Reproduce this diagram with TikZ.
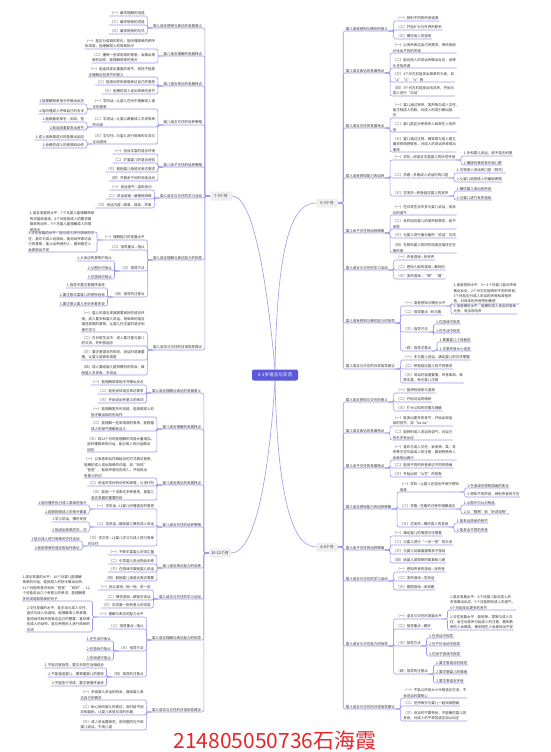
\documentclass[tikz,border=0pt]{standalone}
\usepackage{fontspec}
\setmainfont{Noto Sans CJK SC}
\definecolor{linkc}{HTML}{9A9AEE}
\definecolor{rootblue}{HTML}{5A5AD8}
\definecolor{ink}{HTML}{333333}
\definecolor{signred}{HTML}{E5262B}

\begin{document}
\begin{tikzpicture}[x=1pt, y=-1pt,
  topic/.style={font=\fontsize{3.5}{5.4}\selectfont, text=ink, inner sep=0.5pt, align=left},
  lnode/.style={topic, anchor=south east, xshift=-7pt},
  rnode/.style={topic, anchor=south west, xshift=7pt},
  stage/.style={fill=gray!13, rounded corners=1.5pt, minimum width=22pt, minimum height=9pt, inner sep=1pt, font=\fontsize{3.8}{4}\selectfont, text=ink},
  root/.style={fill=rootblue, text=white, rounded corners=2pt, minimum width=46pt, minimum height=11pt, font=\fontsize{4.6}{5}\selectfont},
  link/.style={draw=linkc, line width=0.6pt, rounded corners=2pt},
  lbranch/.style={to path={(\tikztostart.south west) -- ++(-5,0) |- (\tikztotarget.south west)}},
  rbranch/.style={to path={(\tikztostart.south east) -- ++(5,0) |- (\tikztotarget.south east)}},
  lspine/.style={to path={(\tikztostart.west) -- ++(-5,0) |- (\tikztotarget.south west)}},
  rspine/.style={to path={(\tikztostart.east) -- ++(5,0) |- (\tikztotarget.south east)}}
]
  \fill[white] (0,0) rectangle (550,752);
  \useasboundingbox (0,0) rectangle (550,752);

  % Nodes
  \node[root] (root) at (275,375) {0-1岁语言与交流};
  \node[stage] (s79) at (221,196) {7-9个月};
  \node[stage] (s1012) at (220,553) {10-12个月};
  \node[stage] (s03) at (327,203) {0-3个月};
  \node[stage] (s46) at (327,547) {4-6个月};

  % 7-9个月
  \node[lnode] (A) at (s79.west |- 0,28) {婴儿语言感受与表达的发展意义};
  \node[lnode] (a1) at (A.south west |- 0,16) {（一）最早理解的词语};
  \node[lnode] (a2) at (A.south west |- 0,25) {（二）最早使用的词语};
  \node[lnode] (a3) at (A.south west |- 0,34) {（三）最常使用的句式};
  \node[lnode] (B) at (s79.west |- 0,56) {婴儿语言理解的发展特点};
  \node[lnode] (b1) at (B.south west |- 0,49) {（一）能区分语调的变化，能听懂简单的称呼\\和词语，能理解成人的简单指令};
  \node[lnode] (b2) at (B.south west |- 0,63) {（二）懂得一些常用语的意思，会做出简\\单的动作，能理解简单的指令};
  \node[lnode] (C) at (s79.west |- 0,86) {婴儿语言表达的发展特点};
  \node[lnode] (c1) at (C.south west |- 0,77) {（一）能连续发出重复的音节，但还不能真\\正理解这些音节的意义};
  \node[lnode] (c2) at (C.south west |- 0,85) {（二）能用动作和表情表达自己的意愿};
  \node[lnode] (c3) at (C.south west |- 0,94) {（三）能模仿成人发出简单的音节};
  \node[lnode] (D) at (s79.west |- 0,125) {婴儿语言交往的培养策略};
  \node[lnode] (d1) at (D.south west |- 0,109) {（一）学听话—让婴儿在听中理解成人语\\言的意思};
  \node[lnode] (d1a) at (d1.south west |- 0,104) {1.能理解简单指令并做出反应};
  \node[lnode] (d1b) at (d1.south west |- 0,114) {2.能听懂成人呼唤自己的名字};
  \node[lnode] (d2) at (D.south west |- 0,127) {（二）学说话—让婴儿跟着成人学说简单\\的词语};
  \node[lnode] (d2a) at (d2.south west |- 0,122) {1.能跟着说单字，如妈、爸};
  \node[lnode] (d2b) at (d2.south west |- 0,130) {2.能连续重复发出音节};
  \node[lnode] (d3) at (D.south west |- 0,144) {（三）学交往—与婴儿进行简单的交流与\\互动游戏};
  \node[lnode] (d3a) at (d3.south west |- 0,140) {1.成人用表情逗引时能做出回应};
  \node[lnode] (d3b) at (d3.south west |- 0,148) {2.会模仿成人的表情和动作};
  \node[lnode] (E) at (s79.west |- 0,167) {婴儿亲子交往的培养策略};
  \node[lnode] (e1) at (E.south west |- 0,154) {（一）创设丰富的语言环境};
  \node[lnode] (e2) at (E.south west |- 0,163) {（二）扩展婴儿的语言经验};
  \node[lnode] (e3) at (E.south west |- 0,172) {（三）鼓励婴儿用语言表达需求};
  \node[lnode] (e4) at (E.south west |- 0,181) {（四）开展亲子间的阅读活动};
  \node[lnode] (F) at (s79.west |- 0,198) {婴儿语言与交往的学习活动};
  \node[lnode] (f1) at (F.south west |- 0,190) {（一）说话语气—温和亲切};
  \node[lnode] (f2) at (F.south west |- 0,199) {（二）说话语速—缓慢而清晰};
  \node[lnode] (f3) at (F.south west |- 0,208) {（三）说话内容—简单、具体、形象};
  \node[lnode] (G) at (s79.west |- 0,260) {婴儿语言理解与表达能力的指导};
  \node[lnode] (g1) at (G.south west |- 0,240) {（一）理解能力的发展水平};
  \node[lnode] (g1a) at (g1.south west |- 0,232) {1.语言发展的水平：7个月婴儿能理解简单\\的词语和语调，8个月能按成人的要求做\\简单的动作，9个月婴儿能理解成人的简\\单指令};
  \node[lnode] (g1b) at (g1.south west |- 0,252) {2.交往发展的水平：能与成人进行简单的交\\往，喜欢与成人玩游戏，能用动作表达自\\己的意愿，能认出熟悉的人，看到陌生人\\会表现出不安};
  \node[lnode] (g2) at (G.south west |- 0,250) {（二）指导重点—指认};
  \node[lnode] (g3) at (G.south west |- 0,271) {（三）指导方法};
  \node[lnode] (g3a) at (g3.south west |- 0,261) {1.从身边的事物中指认};
  \node[lnode] (g3b) at (g3.south west |- 0,270) {2.从图片中指认};
  \node[lnode] (g3c) at (g3.south west |- 0,279) {3.在游戏中指认};
  \node[lnode] (g4) at (G.south west |- 0,297) {（四）指导的注意点};
  \node[lnode] (g4a) at (g4.south west |- 0,288) {1.指导中要注意循序渐进};
  \node[lnode] (g4b) at (g4.south west |- 0,297) {2.要注意丰富婴儿的感性经验};
  \node[lnode] (g4c) at (g4.south west |- 0,306) {3.要注意让婴儿多听多看多说};
  \node[lnode] (H) at (s79.west |- 0,350) {婴儿语言与交往的日常指导建议};
  \node[lnode] (h1) at (H.south west |- 0,332) {（一）婴儿的语言发展需要良好的语言环\\境，成人要多和婴儿说话，用简单的语言\\描述周围的事物，让婴儿在丰富的语言刺\\激中学习};
  \node[lnode] (h2) at (H.south west |- 0,346) {（二）在日常生活中，成人要注意与婴儿\\的交流，并积极回应};
  \node[lnode] (h3) at (H.south west |- 0,360) {（三）要注意语言的规范，说话时语速要\\慢，让婴儿能够听清楚};
  \node[lnode] (h4) at (H.south west |- 0,375) {（四）成人要给婴儿提供模仿的机会，鼓\\励婴儿多发音、多说话};

  % 10-12个月
  \node[lnode] (I) at (s1012.west |- 0,393) {婴儿语言理解与表达的发展意义};
  \node[lnode] (i1) at (I.south west |- 0,385) {（一）能理解简单指令并做出反应};
  \node[lnode] (i2) at (I.south west |- 0,394) {（二）能用身体语言表达需求};
  \node[lnode] (i3) at (I.south west |- 0,403) {（三）开始说出有意义的单词};
  \node[lnode] (J) at (s1012.west |- 0,429) {婴儿语言理解的发展特点};
  \node[lnode] (j1) at (J.south west |- 0,417) {（一）能理解更多的词语，能按照成人的\\指令做出相应的动作};
  \node[lnode] (j2) at (J.south west |- 0,431) {（二）能理解一些常用语的意思，能根据\\成人的语气理解其含义};
  \node[lnode] (j3) at (J.south west |- 0,452) {（三）到12个月时能理解的词语大量增加，\\能听懂简单的问话，能对成人的问话做出\\回应};
  \node[lnode] (K) at (s1012.west |- 0,485) {婴儿语言表达的发展特点};
  \node[lnode] (k1) at (K.south west |- 0,478) {（一）以发音和动作相结合的方式表达意愿，\\能模仿成人说出简单的词语，如“妈妈”\\“爸爸”，能用声音回应成人，开始说出\\有意义的词};
  \node[lnode] (k2) at (K.south west |- 0,486) {（二）说话时常伴有动作和表情，以词代句};
  \node[lnode] (k3) at (K.south west |- 0,500) {（三）能用一个词表达多种意思，是婴儿\\语言发展的重要阶段};
  \node[lnode] (L) at (s1012.west |- 0,527) {婴儿语言交往的培养策略};
  \node[lnode] (l1) at (L.south west |- 0,509) {（一）学听话—让婴儿听懂语言的意思};
  \node[lnode] (l1a) at (l1.south west |- 0,505) {1.能听懂并执行成人简单的指令};
  \node[lnode] (l1b) at (l1.south west |- 0,514) {2.能够按照成人的指令做事};
  \node[lnode] (l2) at (L.south west |- 0,527) {（二）学说话—鼓励婴儿模仿成人说话};
  \node[lnode] (l2a) at (l2.south west |- 0,522) {1.学习说话，模仿发音};
  \node[lnode] (l2b) at (l2.south west |- 0,532) {2.能说出简单的字、词};
  \node[lnode] (l3) at (L.south west |- 0,546) {（三）学交往—让婴儿学习与成人进行简单\\的交往};
  \node[lnode] (l3a) at (l3.south west |- 0,541) {1.能与成人进行简单的交往活动};
  \node[lnode] (l3b) at (l3.south west |- 0,550) {2.能用简单的语言和动作表达};
  \node[lnode] (M) at (s1012.west |- 0,568) {婴儿语言表达能力的培养};
  \node[lnode] (m1) at (M.south west |- 0,555) {（一）不断丰富婴儿的词汇量};
  \node[lnode] (m2) at (M.south west |- 0,564) {（二）引导婴儿说出物品名称};
  \node[lnode] (m3) at (M.south west |- 0,572) {（三）在游戏中鼓励婴儿说话};
  \node[lnode] (m4) at (M.south west |- 0,581) {（四）鼓励婴儿用语言表达需要};
  \node[lnode] (N) at (s1012.west |- 0,599) {婴儿语言与交往的学习活动};
  \node[lnode] (n1) at (N.south west |- 0,590) {（一）指认游戏—指一指、说一说};
  \node[lnode] (n2) at (N.south west |- 0,600) {（二）模仿游戏—跟我学说话};
  \node[lnode] (n3) at (N.south west |- 0,608) {（三）学说第一批有意义的词语};
  \node[lnode] (O) at (s1012.west |- 0,640) {婴儿语言理解与表达能力的指导};
  \node[lnode] (o1) at (O.south west |- 0,617) {（一）理解与表达的能力水平};
  \node[lnode] (o1a) at (o1.south west |- 0,601) {1.语言发展的水平：10个月婴儿能理解\\简单的问话，能按成人的指令做出动作，\\11个月能有意识地叫“爸爸”“妈妈”，12\\个月能说出几个有意义的单词，能理解更\\多的词语和简单的句子};
  \node[lnode] (o1b) at (o1.south west |- 0,632) {2.交往发展的水平：能主动与成人交往，\\喜欢与成人玩游戏，能理解成人的表情，\\能用动作和声音表达自己的需要，喜欢模\\仿成人的动作，能与熟悉的人进行简单的\\交流};
  \node[lnode] (o2) at (O.south west |- 0,629) {（二）指导重点—指认};
  \node[lnode] (o3) at (O.south west |- 0,651) {（三）指导方法};
  \node[lnode] (o3a) at (o3.south west |- 0,641) {1.在生活中指认};
  \node[lnode] (o3b) at (o3.south west |- 0,651) {2.在游戏中指认};
  \node[lnode] (o3c) at (o3.south west |- 0,660) {3.在阅读中指认};
  \node[lnode] (o4) at (O.south west |- 0,677) {（四）指导的注意点};
  \node[lnode] (o4a) at (o4.south west |- 0,668) {1.不能过度指导，要与日常生活相结合};
  \node[lnode] (o4b) at (o4.south west |- 0,677) {2.不能强迫婴儿，要尊重婴儿的意愿};
  \node[lnode] (o4c) at (o4.south west |- 0,686) {3.不能急于求成，要注意循序渐进};
  \node[lnode] (P) at (s1012.west |- 0,712) {婴儿语言与交往的日常指导建议};
  \node[lnode] (p1) at (P.south west |- 0,700) {（一）多给婴儿说话的机会，鼓励婴儿表\\达自己的需求};
  \node[lnode] (p2) at (P.south west |- 0,715) {（二）耐心倾听婴儿的表达，及时给予回\\应和鼓励，让婴儿体验交流的乐趣};
  \node[lnode] (p3) at (P.south west |- 0,730) {（三）成人说话要规范，用完整的句子和\\婴儿说话，不用儿语};

  % 0-3个月
  \node[rnode] (Q) at (s03.east |- 0,31) {婴儿语音感知与模仿的意义};
  \node[rnode] (q1) at (Q.south east |- 0,21) {（一）辨别不同的声音语调};
  \node[rnode] (q2) at (Q.south east |- 0,30) {（二）开始扩大与外界的联系};
  \node[rnode] (q3) at (Q.south east |- 0,39) {（三）模仿成人的语音};
  \node[rnode] (R) at (s03.east |- 0,73) {婴儿语言表达的发展特点};
  \node[rnode] (r1) at (R.south east |- 0,53) {（一）以哭声表达自己的需求，哭声逐渐\\分化出不同的声调};
  \node[rnode] (r2) at (R.south east |- 0,68) {（二）能对成人的说话声做出反应，会转\\头寻找声源};
  \node[rnode] (r3) at (R.south east |- 0,82) {（三）2个月左右能发出简单的元音，如\\“a”“o”“e”等};
  \node[rnode] (r4) at (R.south east |- 0,96) {（四）3个月左右能发出咕咕声，开始与\\成人进行“对话”};
  \node[rnode] (S) at (s03.east |- 0,128) {婴儿语言交往的发展特点};
  \node[rnode] (s1) at (S.south east |- 0,118) {（一）婴儿通过哭声、笑声等与成人交往，\\能注视成人的脸，对成人的逗引做出回\\应};
  \node[rnode] (s2) at (S.south east |- 0,132) {（二）婴儿能区分熟悉的人和陌生人的声\\音};
  \node[rnode] (s3) at (S.south east |- 0,152) {（三）婴儿通过注视、微笑等与成人建立\\最初的情感联系，对成人的说话声表现出\\愉快};
  \node[rnode] (T) at (s03.east |- 0,178) {婴儿语音感知能力的培养};
  \node[rnode] (t1) at (T.south east |- 0,160) {（一）学听—用语言丰富婴儿的听觉环境};
  \node[rnode] (t1a) at (t1.south east |- 0,156) {1.多和婴儿说话，给予语言刺激};
  \node[rnode] (t1b) at (t1.south east |- 0,165) {2.播放优美的音乐和儿歌};
  \node[rnode] (t2) at (T.south east |- 0,178) {（二）学看—多看成人说话时的口型};
  \node[rnode] (t2a) at (t2.south east |- 0,173) {1.注视成人说话的口型（附页）};
  \node[rnode] (t2b) at (t2.south east |- 0,182) {2.让婴儿追视成人的面部表情};
  \node[rnode] (t3) at (T.south east |- 0,196) {（三）学发声—积极回应婴儿的发声};
  \node[rnode] (t3a) at (t3.south east |- 0,191) {1.模仿婴儿发出的声音};
  \node[rnode] (t3b) at (t3.south east |- 0,200) {2.与婴儿进行发声游戏};
  \node[rnode] (U) at (s03.east |- 0,233) {婴儿亲子交往的培养策略};
  \node[rnode] (u1) at (U.south east |- 0,215) {（一）在日常生活中多与婴儿说话，用亲\\切的语气};
  \node[rnode] (u2) at (U.south east |- 0,229) {（二）及时回应婴儿的哭声和需求，给予\\安慰};
  \node[rnode] (u3) at (U.south east |- 0,238) {（三）与婴儿进行面对面的“说话”交流};
  \node[rnode] (u4) at (U.south east |- 0,253) {（四）在照料婴儿的同时用语言描述正在\\做的事};
  \node[rnode] (V) at (s03.east |- 0,270) {婴儿语言与交往的学习活动};
  \node[rnode] (v1) at (V.south east |- 0,260) {（一）声音游戏—听铃声};
  \node[rnode] (v2) at (V.south east |- 0,270) {（二）感知人脸的游戏—看妈妈};
  \node[rnode] (v3) at (V.south east |- 0,279) {（三）发声游戏—“啊”“哦”};
  \node[rnode] (W) at (s03.east |- 0,323) {婴儿语音感知与模仿能力的指导};
  \node[rnode] (w1) at (W.south east |- 0,306) {（一）语音感知与模仿水平};
  \node[rnode] (w1a) at (w1.south east |- 0,304) {1.语音感知水平：0～1个月婴儿能对声音\\做出反应，2个月左右能辨别不同的声音，\\3个月能区分成人说话的声音和其他声\\音，对母亲的声音特别敏感};
  \node[rnode] (w1b) at (w1.south east |- 0,314) {2.语音模仿水平：能模仿成人发出的简单\\元音，发出咕咕声};
  \node[rnode] (w2) at (W.south east |- 0,315) {（二）指导重点—听与看};
  \node[rnode] (w3) at (W.south east |- 0,332) {（三）指导方法};
  \node[rnode] (w3a) at (w3.south east |- 0,324) {1.在游戏中指导};
  \node[rnode] (w3b) at (w3.south east |- 0,333) {2.在生活中指导};
  \node[rnode] (w4) at (W.south east |- 0,351) {（四）指导注意点};
  \node[rnode] (w4a) at (w4.south east |- 0,342) {1.尊重婴儿个体差异};
  \node[rnode] (w4b) at (w4.south east |- 0,351) {2.注意声音大小适宜};
  \node[rnode] (X) at (s03.east |- 0,369) {婴儿语言与交往的日常指导建议};
  \node[rnode] (x1) at (X.south east |- 0,360) {（一）多与婴儿说话，满足婴儿的交往需要};
  \node[rnode] (x2) at (X.south east |- 0,369) {（二）积极回应婴儿的不同需求};
  \node[rnode] (x3) at (X.south east |- 0,383) {（三）说话时语速要慢，声音柔和，表\\情丰富，吸引婴儿注意};

  % 4-6个月
  \node[rnode] (Y) at (s46.east |- 0,402) {婴儿语言感知与交往的意义};
  \node[rnode] (y1) at (Y.south east |- 0,393) {（一）能辨别语音与语调};
  \node[rnode] (y2) at (Y.south east |- 0,402) {（二）开始对话的萌芽};
  \node[rnode] (y3) at (Y.south east |- 0,411) {（三）扩大认知的范围与理解};
  \node[rnode] (Z) at (s46.east |- 0,433) {婴儿语言表达的发展特点};
  \node[rnode] (z1) at (Z.south east |- 0,426) {（一）能发出更多的音节，开始出现连\\续的音节，如“ba-ba”};
  \node[rnode] (z2) at (Z.south east |- 0,440) {（二）能辨别成人说话的语气，对自己\\的名字有反应};
  \node[rnode] (AA) at (s46.east |- 0,468) {婴儿亲子交往的发展特点};
  \node[rnode] (aa1) at (AA.south east |- 0,460) {（一）喜欢与成人交往，会用哭、笑、发\\声等方式引起成人的注意，看到熟悉的人\\会表现出高兴};
  \node[rnode] (aa2) at (AA.south east |- 0,468) {（二）能用不同的声音表达不同的情绪};
  \node[rnode] (aa3) at (AA.south east |- 0,477) {（三）开始出现“认生”的现象};
  \node[rnode] (BB) at (s46.east |- 0,509) {婴儿语言感知能力的培养策略};
  \node[rnode] (bb1) at (BB.south east |- 0,492) {（一）学听—让婴儿在语言环境中感知\\语音};
  \node[rnode] (bb1a) at (bb1.south east |- 0,488) {1.在语调中感知情绪的变化};
  \node[rnode] (bb1b) at (bb1.south east |- 0,497) {2.感知不同声音，辨别声音的方位};
  \node[rnode] (bb2) at (BB.south east |- 0,509) {（二）学看—在看的过程中理解语言};
  \node[rnode] (bb2a) at (bb2.south east |- 0,505) {1.从图片中认识物品};
  \node[rnode] (bb2b) at (bb2.south east |- 0,514) {2.从“看物”到“听词找物”};
  \node[rnode] (bb3) at (BB.south east |- 0,527) {（三）学发声—模仿成人的发音};
  \node[rnode] (bb3a) at (bb3.south east |- 0,523) {1.能发出简单的音节};
  \node[rnode] (bb3b) at (bb3.south east |- 0,532) {2.能发出不同的声音};
  \node[rnode] (CC) at (s46.east |- 0,550) {婴儿亲子交往的培养策略};
  \node[rnode] (cc1) at (CC.south east |- 0,536) {（一）满足婴儿的情感交往需要};
  \node[rnode] (cc2) at (CC.south east |- 0,545) {（二）与婴儿进行“一问一答”的交流};
  \node[rnode] (cc3) at (CC.south east |- 0,554) {（三）与婴儿玩躲猫猫等亲子游戏};
  \node[rnode] (cc4) at (CC.south east |- 0,563) {（四）给婴儿讲简单的故事和儿歌};
  \node[rnode] (DD) at (s46.east |- 0,581) {婴儿语言与交往的学习活动};
  \node[rnode] (dd1) at (DD.south east |- 0,572) {（一）感知声音的游戏—找声音};
  \node[rnode] (dd2) at (DD.south east |- 0,581) {（二）发声游戏—学说话};
  \node[rnode] (dd3) at (DD.south east |- 0,590) {（三）看图游戏—说说看};
  \node[rnode] (EE) at (s46.east |- 0,646) {婴儿语言与交往能力的指导};
  \node[rnode] (ee1) at (EE.south east |- 0,619) {（一）语言与交往的发展水平};
  \node[rnode] (ee1a) at (ee1.south east |- 0,610) {1.语言发展水平：4个月婴儿能对成人的\\声音做出反应，5个月能辨别成人的语气，\\6个月能发出更多的音节};
  \node[rnode] (ee1b) at (ee1.south east |- 0,630) {2.交往发展水平：能用哭、笑等与成人交\\往，会主动发声引起成人的注意，看到熟\\悉的人会微笑，看到陌生人会表现出不安};
  \node[rnode] (ee2) at (EE.south east |- 0,629) {（二）指导重点—跟听};
  \node[rnode] (ee3) at (EE.south east |- 0,646) {（三）指导方法};
  \node[rnode] (ee3a) at (ee3.south east |- 0,638) {1.在说话中指导};
  \node[rnode] (ee3b) at (ee3.south east |- 0,646) {2.在户外活动中指导};
  \node[rnode] (ee3c) at (ee3.south east |- 0,656) {3.在亲子游戏中指导};
  \node[rnode] (ee4) at (EE.south east |- 0,674) {（四）指导的注意点};
  \node[rnode] (ee4a) at (ee4.south east |- 0,665) {1.要注意语言的规范};
  \node[rnode] (ee4b) at (ee4.south east |- 0,674) {2.要注意婴儿的情绪};
  \node[rnode] (ee4c) at (ee4.south east |- 0,683) {3.要注意语言环境};
  \node[rnode] (FF) at (s46.east |- 0,709) {婴儿语言与交往的日常指导建议};
  \node[rnode] (ff1) at (FF.south east |- 0,698) {（一）不能以声音大小代替语言交流，不\\会说话时要耐心};
  \node[rnode] (ff2) at (FF.south east |- 0,706) {（二）坚持每天与婴儿一起阅读图画};
  \node[rnode] (ff3) at (FF.south east |- 0,721) {（三）说话时不要夸张，不能模仿婴儿的\\发音，对成人的不规范语言加以纠正};

  \node[font=\fontsize{21}{21}\selectfont, text=signred] (sign) at (275,741) {214805050736石海霞};

  % Edges
  \draw[link] (root.north) .. controls +(-10,-110) and +(18,0) .. (s79.east);
  \draw[link] (root.north) .. controls +(2,-110) and +(-28,0) .. (s03.west);
  \draw[link] (root.south) .. controls +(-6,95) and +(24,0) .. (s1012.east);
  \draw[link] (root.south) .. controls +(2,95) and +(-28,0) .. (s46.west);

  \draw[link] (s79) to[lspine] (A);
  \draw[link] (s79) to[lspine] (B);
  \draw[link] (s79) to[lspine] (C);
  \draw[link] (s79) to[lspine] (D);
  \draw[link] (s79) to[lspine] (E);
  \draw[link] (s79) to[lspine] (F);
  \draw[link] (s79) to[lspine] (G);
  \draw[link] (s79) to[lspine] (H);
  \draw[link] (A) to[lbranch] (a1);
  \draw[link] (A) to[lbranch] (a2);
  \draw[link] (A) to[lbranch] (a3);
  \draw[link] (B) to[lbranch] (b1);
  \draw[link] (B) to[lbranch] (b2);
  \draw[link] (C) to[lbranch] (c1);
  \draw[link] (C) to[lbranch] (c2);
  \draw[link] (C) to[lbranch] (c3);
  \draw[link] (D) to[lbranch] (d1);
  \draw[link] (D) to[lbranch] (d2);
  \draw[link] (D) to[lbranch] (d3);
  \draw[link] (d1) to[lbranch] (d1a);
  \draw[link] (d1) to[lbranch] (d1b);
  \draw[link] (d2) to[lbranch] (d2a);
  \draw[link] (d2) to[lbranch] (d2b);
  \draw[link] (d3) to[lbranch] (d3a);
  \draw[link] (d3) to[lbranch] (d3b);
  \draw[link] (E) to[lbranch] (e1);
  \draw[link] (E) to[lbranch] (e2);
  \draw[link] (E) to[lbranch] (e3);
  \draw[link] (E) to[lbranch] (e4);
  \draw[link] (F) to[lbranch] (f1);
  \draw[link] (F) to[lbranch] (f2);
  \draw[link] (F) to[lbranch] (f3);
  \draw[link] (G) to[lbranch] (g1);
  \draw[link] (G) to[lbranch] (g2);
  \draw[link] (G) to[lbranch] (g3);
  \draw[link] (G) to[lbranch] (g4);
  \draw[link] (g1) to[lbranch] (g1a);
  \draw[link] (g1) to[lbranch] (g1b);
  \draw[link] (g3) to[lbranch] (g3a);
  \draw[link] (g3) to[lbranch] (g3b);
  \draw[link] (g3) to[lbranch] (g3c);
  \draw[link] (g4) to[lbranch] (g4a);
  \draw[link] (g4) to[lbranch] (g4b);
  \draw[link] (g4) to[lbranch] (g4c);
  \draw[link] (H) to[lbranch] (h1);
  \draw[link] (H) to[lbranch] (h2);
  \draw[link] (H) to[lbranch] (h3);
  \draw[link] (H) to[lbranch] (h4);

  \draw[link] (s1012) to[lspine] (I);
  \draw[link] (s1012) to[lspine] (J);
  \draw[link] (s1012) to[lspine] (K);
  \draw[link] (s1012) to[lspine] (L);
  \draw[link] (s1012) to[lspine] (M);
  \draw[link] (s1012) to[lspine] (N);
  \draw[link] (s1012) to[lspine] (O);
  \draw[link] (s1012) to[lspine] (P);
  \draw[link] (I) to[lbranch] (i1);
  \draw[link] (I) to[lbranch] (i2);
  \draw[link] (I) to[lbranch] (i3);
  \draw[link] (J) to[lbranch] (j1);
  \draw[link] (J) to[lbranch] (j2);
  \draw[link] (J) to[lbranch] (j3);
  \draw[link] (K) to[lbranch] (k1);
  \draw[link] (K) to[lbranch] (k2);
  \draw[link] (K) to[lbranch] (k3);
  \draw[link] (L) to[lbranch] (l1);
  \draw[link] (L) to[lbranch] (l2);
  \draw[link] (L) to[lbranch] (l3);
  \draw[link] (l1) to[lbranch] (l1a);
  \draw[link] (l1) to[lbranch] (l1b);
  \draw[link] (l2) to[lbranch] (l2a);
  \draw[link] (l2) to[lbranch] (l2b);
  \draw[link] (l3) to[lbranch] (l3a);
  \draw[link] (l3) to[lbranch] (l3b);
  \draw[link] (M) to[lbranch] (m1);
  \draw[link] (M) to[lbranch] (m2);
  \draw[link] (M) to[lbranch] (m3);
  \draw[link] (M) to[lbranch] (m4);
  \draw[link] (N) to[lbranch] (n1);
  \draw[link] (N) to[lbranch] (n2);
  \draw[link] (N) to[lbranch] (n3);
  \draw[link] (O) to[lbranch] (o1);
  \draw[link] (O) to[lbranch] (o2);
  \draw[link] (O) to[lbranch] (o3);
  \draw[link] (O) to[lbranch] (o4);
  \draw[link] (o1) to[lbranch] (o1a);
  \draw[link] (o1) to[lbranch] (o1b);
  \draw[link] (o3) to[lbranch] (o3a);
  \draw[link] (o3) to[lbranch] (o3b);
  \draw[link] (o3) to[lbranch] (o3c);
  \draw[link] (o4) to[lbranch] (o4a);
  \draw[link] (o4) to[lbranch] (o4b);
  \draw[link] (o4) to[lbranch] (o4c);
  \draw[link] (P) to[lbranch] (p1);
  \draw[link] (P) to[lbranch] (p2);
  \draw[link] (P) to[lbranch] (p3);

  \draw[link] (s03) to[rspine] (Q);
  \draw[link] (s03) to[rspine] (R);
  \draw[link] (s03) to[rspine] (S);
  \draw[link] (s03) to[rspine] (T);
  \draw[link] (s03) to[rspine] (U);
  \draw[link] (s03) to[rspine] (V);
  \draw[link] (s03) to[rspine] (W);
  \draw[link] (s03) to[rspine] (X);
  \draw[link] (Q) to[rbranch] (q1);
  \draw[link] (Q) to[rbranch] (q2);
  \draw[link] (Q) to[rbranch] (q3);
  \draw[link] (R) to[rbranch] (r1);
  \draw[link] (R) to[rbranch] (r2);
  \draw[link] (R) to[rbranch] (r3);
  \draw[link] (R) to[rbranch] (r4);
  \draw[link] (S) to[rbranch] (s1);
  \draw[link] (S) to[rbranch] (s2);
  \draw[link] (S) to[rbranch] (s3);
  \draw[link] (T) to[rbranch] (t1);
  \draw[link] (T) to[rbranch] (t2);
  \draw[link] (T) to[rbranch] (t3);
  \draw[link] (t1) to[rbranch] (t1a);
  \draw[link] (t1) to[rbranch] (t1b);
  \draw[link] (t2) to[rbranch] (t2a);
  \draw[link] (t2) to[rbranch] (t2b);
  \draw[link] (t3) to[rbranch] (t3a);
  \draw[link] (t3) to[rbranch] (t3b);
  \draw[link] (U) to[rbranch] (u1);
  \draw[link] (U) to[rbranch] (u2);
  \draw[link] (U) to[rbranch] (u3);
  \draw[link] (U) to[rbranch] (u4);
  \draw[link] (V) to[rbranch] (v1);
  \draw[link] (V) to[rbranch] (v2);
  \draw[link] (V) to[rbranch] (v3);
  \draw[link] (W) to[rbranch] (w1);
  \draw[link] (W) to[rbranch] (w2);
  \draw[link] (W) to[rbranch] (w3);
  \draw[link] (W) to[rbranch] (w4);
  \draw[link] (w1) to[rbranch] (w1a);
  \draw[link] (w1) to[rbranch] (w1b);
  \draw[link] (w3) to[rbranch] (w3a);
  \draw[link] (w3) to[rbranch] (w3b);
  \draw[link] (w4) to[rbranch] (w4a);
  \draw[link] (w4) to[rbranch] (w4b);
  \draw[link] (X) to[rbranch] (x1);
  \draw[link] (X) to[rbranch] (x2);
  \draw[link] (X) to[rbranch] (x3);

  \draw[link] (s46) to[rspine] (Y);
  \draw[link] (s46) to[rspine] (Z);
  \draw[link] (s46) to[rspine] (AA);
  \draw[link] (s46) to[rspine] (BB);
  \draw[link] (s46) to[rspine] (CC);
  \draw[link] (s46) to[rspine] (DD);
  \draw[link] (s46) to[rspine] (EE);
  \draw[link] (s46) to[rspine] (FF);
  \draw[link] (Y) to[rbranch] (y1);
  \draw[link] (Y) to[rbranch] (y2);
  \draw[link] (Y) to[rbranch] (y3);
  \draw[link] (Z) to[rbranch] (z1);
  \draw[link] (Z) to[rbranch] (z2);
  \draw[link] (AA) to[rbranch] (aa1);
  \draw[link] (AA) to[rbranch] (aa2);
  \draw[link] (AA) to[rbranch] (aa3);
  \draw[link] (BB) to[rbranch] (bb1);
  \draw[link] (BB) to[rbranch] (bb2);
  \draw[link] (BB) to[rbranch] (bb3);
  \draw[link] (bb1) to[rbranch] (bb1a);
  \draw[link] (bb1) to[rbranch] (bb1b);
  \draw[link] (bb2) to[rbranch] (bb2a);
  \draw[link] (bb2) to[rbranch] (bb2b);
  \draw[link] (bb3) to[rbranch] (bb3a);
  \draw[link] (bb3) to[rbranch] (bb3b);
  \draw[link] (CC) to[rbranch] (cc1);
  \draw[link] (CC) to[rbranch] (cc2);
  \draw[link] (CC) to[rbranch] (cc3);
  \draw[link] (CC) to[rbranch] (cc4);
  \draw[link] (DD) to[rbranch] (dd1);
  \draw[link] (DD) to[rbranch] (dd2);
  \draw[link] (DD) to[rbranch] (dd3);
  \draw[link] (EE) to[rbranch] (ee1);
  \draw[link] (EE) to[rbranch] (ee2);
  \draw[link] (EE) to[rbranch] (ee3);
  \draw[link] (EE) to[rbranch] (ee4);
  \draw[link] (ee1) to[rbranch] (ee1a);
  \draw[link] (ee1) to[rbranch] (ee1b);
  \draw[link] (ee3) to[rbranch] (ee3a);
  \draw[link] (ee3) to[rbranch] (ee3b);
  \draw[link] (ee3) to[rbranch] (ee3c);
  \draw[link] (ee4) to[rbranch] (ee4a);
  \draw[link] (ee4) to[rbranch] (ee4b);
  \draw[link] (ee4) to[rbranch] (ee4c);
  \draw[link] (FF) to[rbranch] (ff1);
  \draw[link] (FF) to[rbranch] (ff2);
  \draw[link] (FF) to[rbranch] (ff3);

\end{tikzpicture}
\end{document}
